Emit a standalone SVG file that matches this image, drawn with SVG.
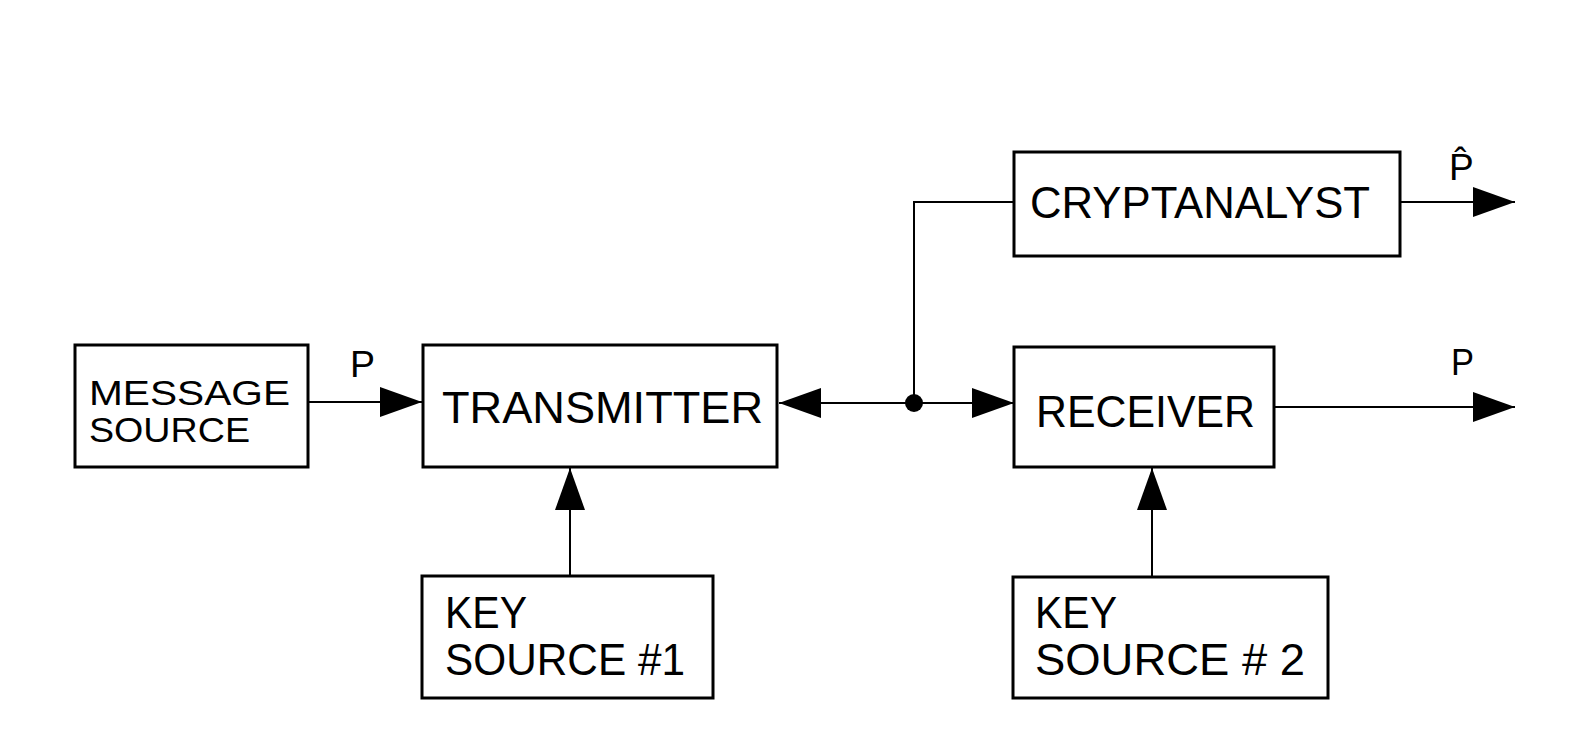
<svg xmlns="http://www.w3.org/2000/svg" width="1592" height="754" viewBox="0 0 1592 754">
<style>
.box{fill:none;stroke:#000;stroke-width:3}
.lbl{font-family:"Liberation Sans",Arial,sans-serif;font-size:44px;fill:#000}
.sm{font-size:35px}
.p{font-family:"Liberation Sans",Arial,sans-serif;font-size:37px;fill:#000}
.ln{fill:none;stroke:#000;stroke-width:2}
</style>
<defs>
<marker id="arr" markerWidth="42" markerHeight="30" refX="42" refY="15" orient="auto" markerUnits="userSpaceOnUse">
<path d="M0,0 L42,15 L0,30 z" fill="#000"/>
</marker>
</defs>
<rect width="1592" height="754" fill="#fff"/>
<g id="connectors">
<line class="ln" x1="308" y1="402" x2="422" y2="402" marker-end="url(#arr)"/>
<line class="ln" x1="914" y1="403" x2="779" y2="403" marker-end="url(#arr)"/>
<line class="ln" x1="914" y1="403" x2="1014" y2="403" marker-end="url(#arr)"/>
<path class="ln" d="M914,403 V202 H1014"/>
<line class="ln" x1="1400" y1="202" x2="1515" y2="202" marker-end="url(#arr)"/>
<line class="ln" x1="1274" y1="407" x2="1515" y2="407" marker-end="url(#arr)"/>
<line class="ln" x1="570" y1="576" x2="570" y2="468" marker-end="url(#arr)"/>
<line class="ln" x1="1152" y1="577" x2="1152" y2="468" marker-end="url(#arr)"/>
<circle cx="914" cy="403" r="9" fill="#000"/>
<text class="p" x="350" y="377" textLength="25" lengthAdjust="spacingAndGlyphs">P</text>
<text class="p" x="1449" y="180">P&#x302;</text>
<text class="p" x="1451" y="375" textLength="23" lengthAdjust="spacingAndGlyphs">P</text>
</g>
<g id="message-source">
<rect class="box" x="75" y="345" width="233" height="122"/>
<text class="lbl sm" x="89" y="405" textLength="201" lengthAdjust="spacingAndGlyphs">MESSAGE</text>
<text class="lbl sm" x="89" y="442" textLength="161" lengthAdjust="spacingAndGlyphs">SOURCE</text>
</g>
<g id="transmitter">
<rect class="box" x="423" y="345" width="354" height="122"/>
<text class="lbl" x="442" y="423" textLength="321" lengthAdjust="spacingAndGlyphs">TRANSMITTER</text>
</g>
<g id="cryptanalyst">
<rect class="box" x="1014" y="152" width="386" height="104"/>
<text class="lbl" x="1030" y="218" textLength="340" lengthAdjust="spacingAndGlyphs">CRYPTANALYST</text>
</g>
<g id="receiver">
<rect class="box" x="1014" y="347" width="260" height="120"/>
<text class="lbl" x="1036" y="427" textLength="219" lengthAdjust="spacingAndGlyphs">RECEIVER</text>
</g>
<g id="key-source-1">
<rect class="box" x="422" y="576" width="291" height="122"/>
<text class="lbl" x="445" y="628" textLength="82" lengthAdjust="spacingAndGlyphs">KEY</text>
<text class="lbl" x="445" y="675" textLength="240" lengthAdjust="spacingAndGlyphs">SOURCE #1</text>
</g>
<g id="key-source-2">
<rect class="box" x="1013" y="577" width="315" height="121"/>
<text class="lbl" x="1035" y="628" textLength="82" lengthAdjust="spacingAndGlyphs">KEY</text>
<text class="lbl" x="1035" y="675" textLength="270" lengthAdjust="spacingAndGlyphs">SOURCE # 2</text>
</g>
</svg>
